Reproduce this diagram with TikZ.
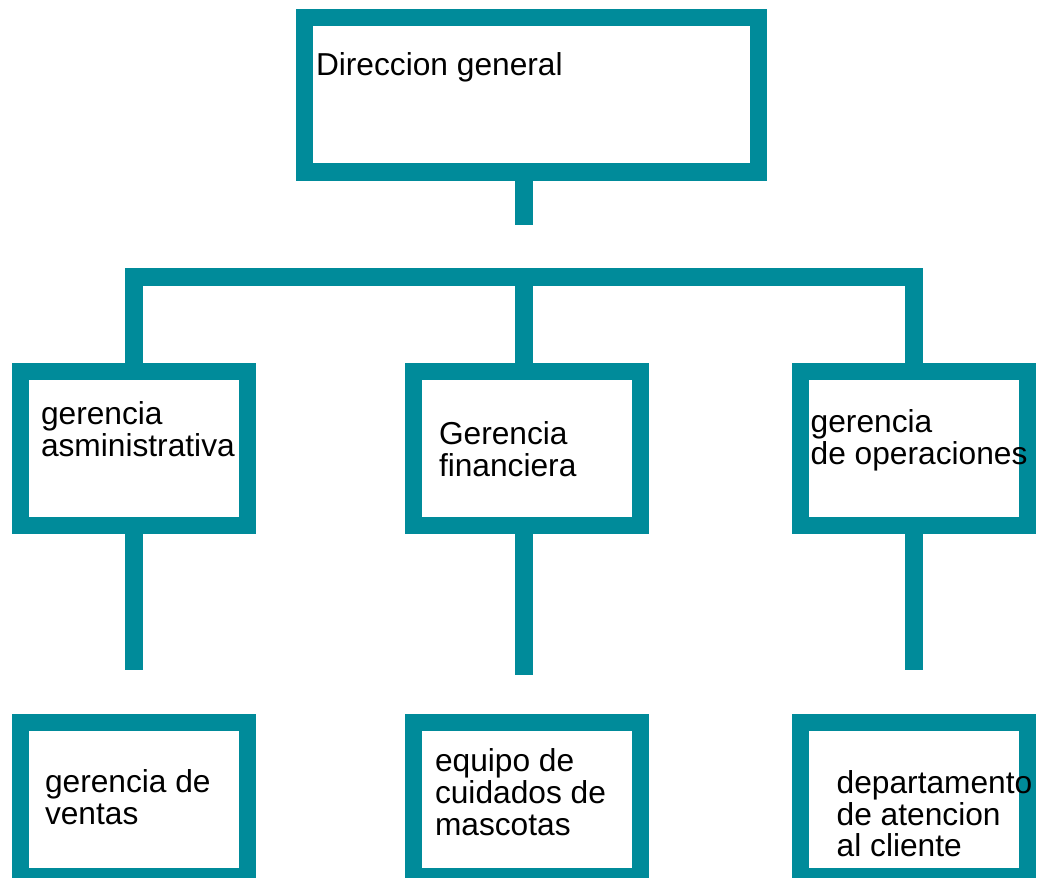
\documentclass[tikz,border=0pt]{standalone}
\usepackage{fontspec}
\setmainfont{Liberation Sans}
\definecolor{teal1}{RGB}{0,139,154}
\begin{document}
\begin{tikzpicture}[x=1pt,y=-1pt,
  box/.style={draw=teal1, line width=17.3pt, rectangle, inner sep=0pt, outer sep=0pt,
    minimum width=226.8pt, minimum height=154.2pt},
  conn/.style={draw=teal1, line width=17.3pt, line cap=butt, line join=miter},
  lbl/.style={anchor=base west, inner sep=0pt, outer sep=0pt, align=left,
    font=\fontsize{31.7}{31.7}\selectfont}]
\useasboundingbox (0,0) rectangle (1040,877);
\clip (0,0) rectangle (1040,877);
% boxes
\node[box, minimum width=454pt, minimum height=154.3pt] (top) at (531.5,94.85) {};
\node[box] (ga) at (133.9,448.4) {};
\node[box] (gf) at (527.1,448.4) {};
\node[box] (go) at (914,448.4) {};
\node[box] (gv) at (133.9,799.25) {};
\node[box] (ec) at (527.1,799.25) {};
\node[box] (da) at (914,799.25) {};
% connectors
\coordinate (c0) at (524,225.3);
\draw[conn] (top.south -| c0) -- (c0);
\coordinate (bar) at (524,277);
\draw[conn] (ga.north) |- (bar) -| (go.north);
\draw[conn] (bar) -- (bar |- gf.north);
\coordinate (s1) at (133.9,669.7);
\draw[conn] (ga.south) -- (s1);
\coordinate (s2) at (524,675);
\draw[conn] (gf.south -| s2) -- (s2);
\coordinate (s3) at (914,669.7);
\draw[conn] (go.south) -- (s3);
% labels (anchored at the baseline of the last line)
\node[lbl] (t0) at (316,76) {Direccion general};
\node[lbl] (t1) at (41,456) {gerencia\\asministrativa};
\node[lbl] (t2) at (439,476) {Gerencia\\financiera};
\node[lbl] (t3) at (810.7,464.3) {gerencia\\de operaciones};
\node[lbl] (t4) at (45,824) {gerencia de\\ventas};
\node[lbl] (t5) at (435,835) {equipo de\\cuidados de\\mascotas};
\node[lbl] (t6) at (836.7,856.7) {departamento\\de atencion\\al cliente};
\end{tikzpicture}
\end{document}
